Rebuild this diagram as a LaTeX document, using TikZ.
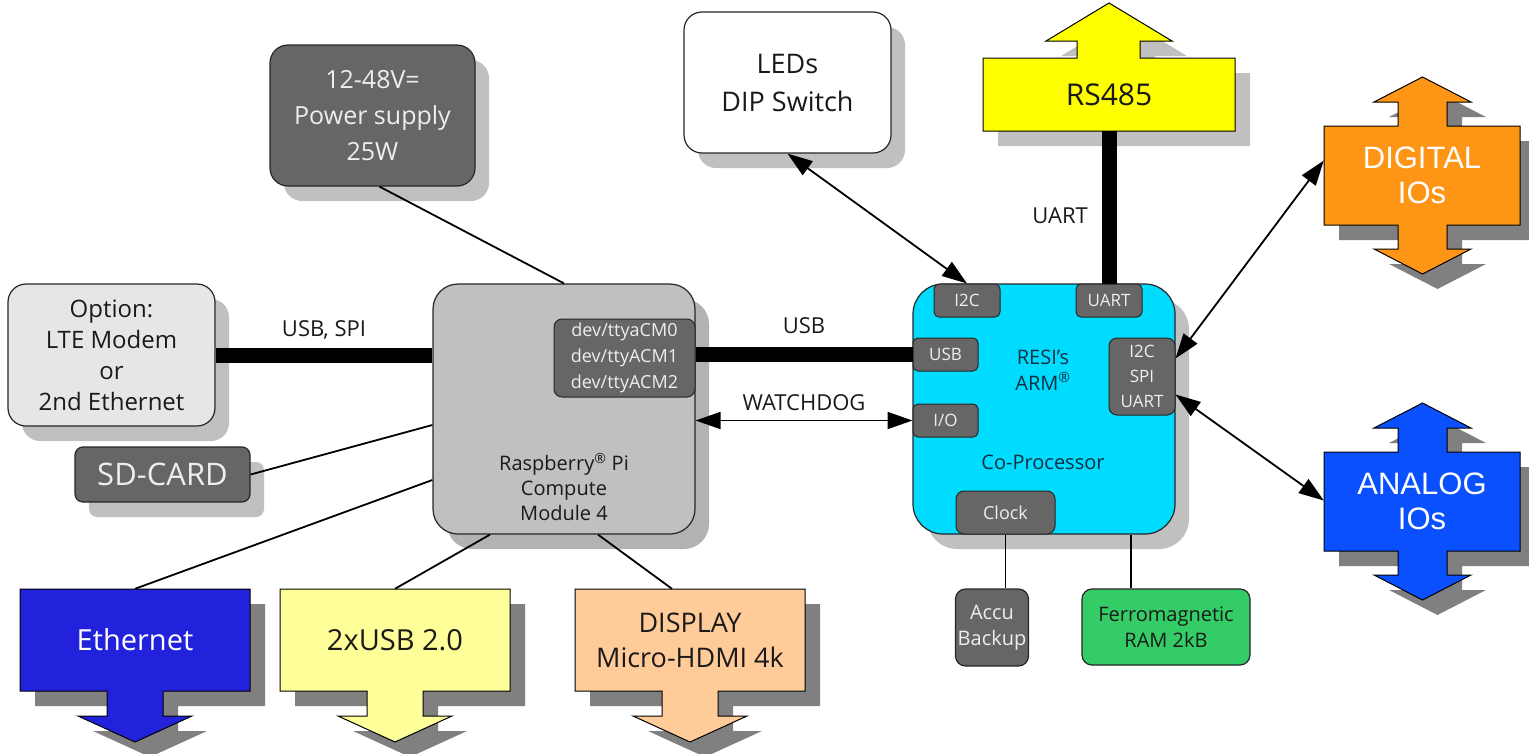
\documentclass[tikz,border=0pt]{standalone}
\usepackage{fontspec}
\setmainfont{Open Sans}
\newfontfamily\arialf{Liberation Sans}
\usetikzlibrary{shadows,arrows.meta,calc}
\definecolor{shL}{HTML}{C0C0C0}
\definecolor{shR}{HTML}{B2B2B2}
\definecolor{shD}{HTML}{808080}
\definecolor{dkg}{HTML}{666666}
\definecolor{ltxt}{HTML}{EEEEEE}
\definecolor{dtxt}{HTML}{1A1A1A}
\definecolor{ltec}{HTML}{E6E6E6}
\definecolor{rpic}{HTML}{C0C0C0}
\definecolor{coc}{HTML}{00DCFF}
\definecolor{cotxt}{HTML}{103040}
\definecolor{ferc}{HTML}{33CC66}
\definecolor{rsc}{HTML}{FFFF00}
\definecolor{digc}{HTML}{FF9514}
\definecolor{anac}{HTML}{0A50FF}
\definecolor{ethc}{HTML}{2222DD}
\definecolor{usbc}{HTML}{FFFF99}
\definecolor{disc}{HTML}{FFCC99}
\newcommand\DArrow[2]{%
  \path[#2] ({#1-115},589) -- ({#1+115},589) -- ({#1+115},691) -- ({#1+28},691) -- ({#1+28},716) -- ({#1+57},716) -- (#1,742) -- ({#1-57},716) -- ({#1-28},716) -- ({#1-28},691) -- ({#1-115},691) -- cycle;}
\newcommand\UDArrow[2]{%
  \path[#2] (1324,#1) -- (1398,#1) -- (1398,{#1-24}) -- (1374,{#1-24}) -- (1422.5,{#1-49}) -- (1471,{#1-24}) -- (1447,{#1-24}) -- (1447,#1) -- (1520,#1) -- (1520,{#1+99}) -- (1447,{#1+99}) -- (1447,{#1+123}) -- (1471,{#1+123}) -- (1422.5,{#1+148}) -- (1374,{#1+123}) -- (1398,{#1+123}) -- (1398,{#1+99}) -- (1324,{#1+99}) -- cycle;}
\newcommand\RSArrow[1]{%
  \path[#1] (983,58) -- (1077,58) -- (1077,41) -- (1046,41) -- (1109,3) -- (1172,41) -- (1140,41) -- (1140,58) -- (1235,58) -- (1235,131) -- (983,131) -- cycle;}
\begin{document}
\begin{tikzpicture}[x=1pt,y=-1pt,
  box/.style={draw=black!85, line width=1.2pt, rounded corners=18pt, inner sep=0pt, align=center},
  shadowL/.style={drop shadow={shadow xshift=14pt, shadow yshift=-15pt, fill=shL, opacity=1}},
  shadowR/.style={drop shadow={shadow xshift=14pt, shadow yshift=-15pt, fill=shR, opacity=1}},
  chip/.style={draw=black!85, line width=1pt, fill=dkg, rounded corners=5pt, text=ltxt, inner sep=0pt, align=center, font=\fontsize{17}{25}\selectfont},
  lbl/.style={inner sep=0pt, align=center},
  thin/.style={line width=1.8pt, draw=black},
  thick/.style={line width=15pt, draw=black},
  dbl/.style={thin, {Triangle[length=25pt,width=17pt]}-{Triangle[length=25pt,width=17pt]}},
  shapeline/.style={draw=black, line width=1pt}
]
\useasboundingbox (0,0) rectangle (1529,753);

% arrow-shaped blocks
\RSArrow{fill=shL, shift={(15,15)}}
\RSArrow{fill=rsc, shapeline}
\node[lbl, minimum width=252pt, minimum height=73pt, font=\fontsize{30}{36}\selectfont, text=dtxt] (rs) at (1109,94.5) {RS485};

\UDArrow{126}{fill=shD, shift={(15,15)}}
\UDArrow{126}{fill=digc, shapeline}
\node[lbl, minimum width=196pt, minimum height=99pt, font=\arialf\fontsize{31}{35}\selectfont, text=white] (dig) at (1422,175.5) {DIGITAL\\IOs};

\UDArrow{452}{fill=shD, shift={(15,15)}}
\UDArrow{452}{fill=anac, shapeline}
\node[lbl, minimum width=196pt, minimum height=99pt, font=\arialf\fontsize{31}{35}\selectfont, text=white] (ana) at (1422,501.5) {ANALOG\\IOs};

\DArrow{135}{fill=shD, shift={(15,15)}}
\DArrow{135}{fill=ethc, shapeline}
\node[lbl, minimum width=230pt, minimum height=102pt, font=\fontsize{29}{35}\selectfont, text=white] (eth) at (135,640) {Ethernet};

\DArrow{395}{fill=shD, shift={(15,15)}}
\DArrow{395}{fill=usbc, shapeline}
\node[lbl, minimum width=230pt, minimum height=102pt, font=\fontsize{29}{35}\selectfont, text=dtxt] (usb) at (395,640) {2xUSB 2.0};

\DArrow{690}{fill=shD, shift={(15,15)}}
\DArrow{690}{fill=disc, shapeline}
\node[lbl, minimum width=230pt, minimum height=102pt, font=\fontsize{27}{35}\selectfont, text=dtxt] (disp) at (690,640) {DISPLAY\\Micro-HDMI 4k};

% rounded boxes
\node[box, shadowL, fill=dkg, text=ltxt, minimum width=205pt, minimum height=141pt, font=\fontsize{25}{36}\selectfont] (pwr) at (372.5,115.5) {12-48V=\\Power supply\\25W};
\node[box, shadowL, fill=white, text=dtxt, minimum width=207pt, minimum height=141pt, font=\fontsize{27}{38}\selectfont] (led) at (787.5,82.5) {LEDs\\DIP Switch};
\node[box, shadowL, fill=ltec, text=dtxt, minimum width=207pt, minimum height=142pt, font=\fontsize{24}{31}\selectfont] (lte) at (111.5,355) {Option:\\LTE Modem\\or\\2nd Ethernet};
\node[box, shadowL, rounded corners=8pt, fill=dkg, text=ltxt, minimum width=175pt, minimum height=55pt, font=\fontsize{31}{36}\selectfont] (sd) at (162.5,474.5) {SD-CARD};
\node[box, shadowR, rounded corners=25pt, fill=rpic, minimum width=262pt, minimum height=250pt] (rpi) at (564,409) {};
\node[lbl, text=dtxt, font=\fontsize{20}{25}\selectfont] (rpitxt) at (564,487) {Raspberry\textsuperscript{\textregistered} Pi\\Compute\\Module 4};
\node[chip, rounded corners=8pt, minimum width=141pt, minimum height=78pt, font=\fontsize{18}{26}\selectfont] (dev) at (624.5,358) {dev/ttyaCM0\\dev/ttyACM1\\dev/ttyACM2};

\node[box, shadowL, rounded corners=30pt, fill=coc, minimum width=262pt, minimum height=250pt] (co) at (1044,409) {};
\node[lbl, text=cotxt, font=\fontsize{20}{26}\selectfont] (arm) at (1043,370) {RESI's\\ARM\textsuperscript{\textregistered}};
\node[lbl, text=cotxt, font=\fontsize{20}{26}\selectfont] (cop) at (1043,462) {Co-Processor};
\node[chip, minimum width=66pt, minimum height=33pt] (i2c) at (967,300.5) {I2C};
\node[chip, minimum width=66pt, minimum height=33pt] (uart) at (1109,300.5) {UART};
\node[chip, minimum width=65pt, minimum height=33pt] (usbc) at (945.5,354.5) {USB};
\node[chip, minimum width=65pt, minimum height=33pt] (io) at (945.5,420.5) {I/O};
\node[chip, rounded corners=8pt, minimum width=66pt, minimum height=77pt] (isu) at (1142,376.5) {I2C\\SPI\\UART};
\node[chip, rounded corners=8pt, minimum width=99pt, minimum height=43pt, font=\fontsize{18}{25}\selectfont] (clk) at (1005.5,512.5) {Clock};

\node[box, rounded corners=10pt, fill=dkg, text=ltxt, minimum width=73pt, minimum height=77pt, font=\fontsize{20}{26}\selectfont] (accu) at (992,627.5) {Accu\\Backup};
\node[box, rounded corners=10pt, fill=ferc, text=dtxt, minimum width=168pt, minimum height=76pt, font=\fontsize{20}{26}\selectfont] (fer) at (1166,627) {Ferromagnetic\\RAM 2kB};

% connectors
\draw[thick] (lte.east) -- (lte.east -| rpi.west);
\draw[thick] (usbc.west -| dev.east) -- (usbc.west);
\draw[thick] (rs.south -| uart.north) -- (uart.north);
\draw[dbl] (io.west -| rpi.east) -- (io.west);
\draw[dbl] (led.south) -- (i2c.north);
\draw[dbl] ([yshift=18pt]isu.east) -- ([yshift=15pt]dig.west);
\draw[dbl] ([yshift=-18pt]isu.east) -- ([yshift=1pt]ana.west);
\draw[thin] ([xshift=7pt]pwr.south) -- (rpi.north);
\draw[thin] (sd.east) -- ([yshift=-16pt]rpi.west);
\draw[thin] (eth.north) -- ([yshift=-71pt]rpi.west);
\draw[thin] (usb.north) -- ([xshift=-74pt]rpi.south);
\draw[thin] ([xshift=-18pt]disp.north) -- ([xshift=34pt]rpi.south);
\draw[thin] (clk.south) -- (clk.south |- accu.north);
\coordinate (frt) at ([xshift=-35pt]fer.north);
\draw[thin] (frt |- co.south) -- (frt);

% connector labels
\node[lbl, text=dtxt, font=\fontsize{22}{26}\selectfont] (l1) at (324,330) {USB, SPI};
\node[lbl, text=dtxt, font=\fontsize{22}{26}\selectfont] (l2) at (804,326) {USB};
\node[lbl, text=dtxt, font=\fontsize{22}{26}\selectfont] (l3) at (804,403) {WATCHDOG};
\node[lbl, text=dtxt, font=\fontsize{22}{26}\selectfont] (l4) at (1060,216) {UART};
\end{tikzpicture}
\end{document}
